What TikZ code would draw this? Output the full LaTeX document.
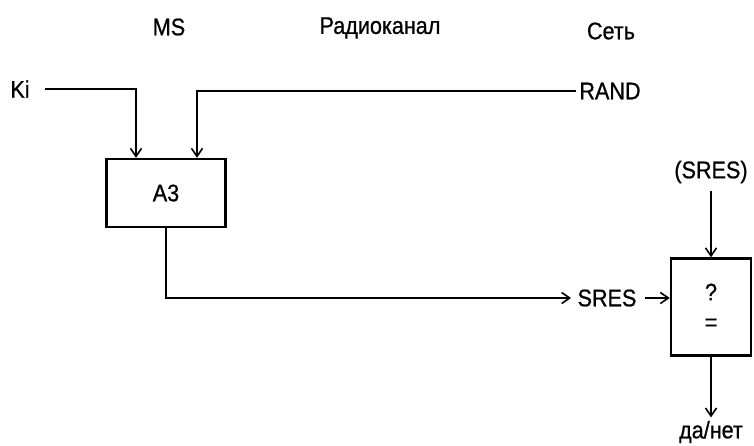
\documentclass[tikz,border=0pt]{standalone}
\usepackage{fontspec}
\setmainfont{Liberation Sans}[FakeStretch=0.9,FakeBold=0.8]
\usetikzlibrary{arrows.meta,positioning,calc}

\begin{document}
\begin{tikzpicture}[x=1pt,y=-1pt,
  every node/.style={font=\fontsize{24}{28}\selectfont},
  unit/.style={draw,line width=2.4pt},
  feed/.style={line width=1.6pt,-{Straight Barb[length=8pt,width=11pt]}}]
\useasboundingbox (0,0) rectangle (754,445);
% column headings
\node (ms) at (169,27){MS};
\node (radio) at (380,28){Радиоканал};
\node (net) at (611,31){Сеть};
% inputs
\node (ki) at (20,89){Ki};
\node (rand) at (610,91){RAND};
\node[unit,minimum width=119pt,minimum height=68pt] (a3) at (166,193){A3};
\node (sres) at (607,298){SRES};
\node[unit,minimum width=80pt,minimum height=97pt,align=center] (cmp) at (711,307){?\\[2pt]=};
\node (ref) at (711,172){(SRES)};
\node (ans) at (711,432){да/нет};
% connectors
\draw[feed,shorten <=12pt] (ki.east) -| ([xshift=-30pt]a3.north);
\draw[feed] (rand.west) -| ([xshift=31pt]a3.north);
\draw[feed,shorten >=3pt] (a3.south) |- (sres.west);
\draw[feed,shorten <=5pt] (sres.east) -- (sres.east -| cmp.west);
\draw[feed,shorten <=4pt] (ref.south) -- (cmp.north);
\draw[feed] (cmp.south) -- (ans.north);
\end{tikzpicture}
\end{document}
